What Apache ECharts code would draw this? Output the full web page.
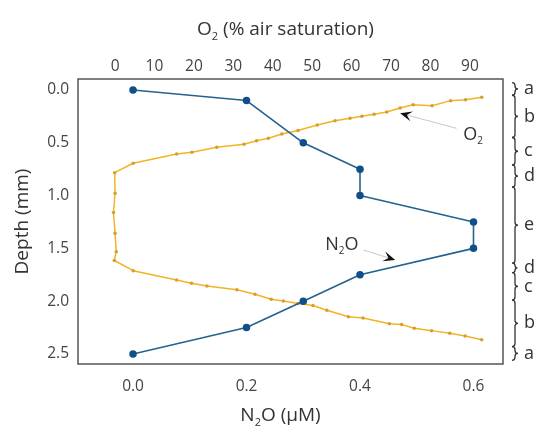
<!DOCTYPE html>
<html><head><meta charset="utf-8">
<script src="https://cdn.jsdelivr.net/npm/echarts@6/dist/echarts.min.js"></script>
<style>html,body{margin:0;padding:0;background:#fff}#c{width:543px;height:429px}</style>
</head><body><div id="c"></div>
<script>
const depthTicks = [0, 0.5, 1.0, 1.5, 2.0, 2.5];
const o2Ticks = [0, 10, 20, 30, 40, 50, 60, 70, 80, 90];
const n2oTicks = [0, 0.2, 0.4, 0.6];

const n2oDepth = [0, 0.1, 0.5, 0.75, 1.0, 1.25, 1.5, 1.75, 2.0, 2.25, 2.5];
const n2oValue = [0, 0.2, 0.3, 0.4, 0.4, 0.6, 0.6, 0.4, 0.3, 0.2, 0];

const o2Depth = [0.069,0.092,0.101,0.149,0.139,0.170,0.208,0.229,0.249,0.268,0.291,0.331,0.384,0.417,0.457,0.480,0.514,0.543,0.590,0.606,0.694,0.783,0.978,1.160,1.357,1.531,1.615,1.711,1.799,1.831,1.856,1.891,1.934,1.981,1.998,2.022,2.041,2.086,2.147,2.159,2.213,2.222,2.257,2.279,2.304,2.330,2.365];
const o2Value = [93.0,88.9,85.1,80.4,75.6,72.3,68.9,65.7,62.6,59.6,55.8,51.3,46.4,42.3,38.9,35.9,32.7,25.8,19.5,15.6,4.6,-0.1,0,-0.4,0,0.3,-0.2,4.6,15.6,19.4,23.3,30.9,35.5,39.6,42.7,46.4,50.2,53.7,59.2,62.9,69.6,72.7,75.9,80.3,84.9,88.8,93.0];

const zoneLabels = ['a','b','c','d','e','d','c','b','a'];
const zoneBounds = [-0.07, 0.05, 0.45, 0.71, 0.92, 1.64, 1.73, 1.99, 2.43, 2.56];

const FONT = '"Open Sans", "Noto Sans", sans-serif';
const chart = echarts.init(document.getElementById('c'), null, {renderer: 'canvas'});

const zoneData = zoneLabels.map((l, i) => [zoneBounds[i], zoneBounds[i + 1], i]);

const rich = {
  n: {fontSize: 19, color: '#333', fontFamily: FONT, lineHeight: 24},
  s: {fontSize: 11, color: '#333', fontFamily: FONT, verticalAlign: 'bottom', lineHeight: 11}
};

const option = {
  animation: false,
  backgroundColor: '#fff',
  grid: {left: 78, right: 40, top: 79, bottom: 65, show: true, borderColor: '#555', borderWidth: 1.5, containLabel: false, outerBoundsMode: 'none'},
  xAxis: [
    {
      type: 'value', position: 'bottom', min: -0.097, max: 0.652,
      name: '{n|N}{s|2}{n|O (μM)}', nameLocation: 'middle', nameGap: 40,
      nameTextStyle: {rich: rich, padding: [0, 20, 0, 0]},
      axisLine: {show: false}, axisTick: {show: false}, splitLine: {show: false},
      axisLabel: {customValues: n2oTicks, formatter: v => v.toFixed(1), fontSize: 15.5, color: '#444', fontFamily: FONT, margin: 15}
    },
    {
      type: 'value', position: 'top', min: -9.4, max: 98.4,
      name: '{n|O}{s|2}{n| (% air saturation)}', nameLocation: 'middle', nameGap: 37,
      nameTextStyle: {rich: rich, padding: [0, 10, 0, 0]},
      axisLine: {show: false}, axisTick: {show: false}, splitLine: {show: false},
      axisLabel: {customValues: o2Ticks, fontSize: 15.5, color: '#444', fontFamily: FONT, margin: 4}
    }
  ],
  yAxis: [{
    type: 'value', inverse: true, min: -0.104, max: 2.595,
    name: 'Depth (mm)', nameLocation: 'middle', nameGap: 46,
    nameTextStyle: {fontSize: 19, color: '#333', fontFamily: FONT},
    axisLine: {show: false}, axisTick: {show: false}, splitLine: {show: false},
    axisLabel: {customValues: depthTicks, formatter: v => v.toFixed(1), fontSize: 15.5, color: '#444', fontFamily: FONT, margin: 9}
  }],
  series: [
    {
      type: 'line', xAxisIndex: 1, yAxisIndex: 0,
      data: o2Value.map((v, i) => [v, o2Depth[i]]),
      symbol: 'circle', symbolSize: 3.5, showSymbol: true,
      lineStyle: {color: '#f2b426', width: 1.5},
      itemStyle: {color: '#d99d2e'}, z: 2
    },
    {
      type: 'line', xAxisIndex: 0, yAxisIndex: 0,
      data: n2oValue.map((v, i) => [v, n2oDepth[i]]),
      symbol: 'circle', symbolSize: 7.5, showSymbol: true,
      lineStyle: {color: '#24628f', width: 1.6},
      itemStyle: {color: '#0f5088'}, z: 3
    },
    {
      type: 'custom', xAxisIndex: 0, yAxisIndex: 0, clip: false, silent: true,
      encode: {x: 2, y: [0, 1]},
      data: zoneData,
      renderItem: function (params, api) {
        const cs = params.coordSys;
        const bx = cs.x + cs.width + 12;
        const y0 = api.coord([0, api.value(0)])[1];
        const y1 = api.coord([0, api.value(1)])[1];
        const ym = (y0 + y1) / 2;
        const w = Math.min(3, (y1 - y0) / 4);
        const p = 'M' + (bx - w) + ' ' + y0 +
          ' Q' + bx + ' ' + y0 + ' ' + bx + ' ' + (y0 + w) +
          ' L' + bx + ' ' + (ym - w) +
          ' Q' + bx + ' ' + ym + ' ' + (bx + w) + ' ' + ym +
          ' Q' + bx + ' ' + ym + ' ' + bx + ' ' + (ym + w) +
          ' L' + bx + ' ' + (y1 - w) +
          ' Q' + bx + ' ' + y1 + ' ' + (bx - w) + ' ' + y1;
        return {
          type: 'group',
          children: [
            {type: 'path', shape: {pathData: p}, style: {stroke: '#333', fill: null, lineWidth: 1.3}},
            {type: 'text', style: {text: zoneLabels[api.value(2)], x: bx + 9, y: ym, fill: '#333', font: '18px ' + FONT, verticalAlign: 'middle', align: 'left'}}
          ]
        };
      }
    }
  ]
};
chart.setOption(option);

function arrow(from, tip) {
  const dx = tip[0] - from[0], dy = tip[1] - from[1];
  const len = Math.hypot(dx, dy);
  const ux = dx / len, uy = dy / len, nx = -uy, ny = ux;
  const L = 12, W = 5, N = 7;
  const back = [tip[0] - L * ux, tip[1] - L * uy];
  return [
    {type: 'line', shape: {x1: from[0], y1: from[1], x2: tip[0] - N * ux, y2: tip[1] - N * uy}, style: {stroke: '#c8c8c8', lineWidth: 1}, z: 10},
    {type: 'polygon', shape: {points: [tip, [back[0] + W * nx, back[1] + W * ny], [tip[0] - N * ux, tip[1] - N * uy], [back[0] - W * nx, back[1] - W * ny]]}, style: {fill: '#111'}, z: 11}
  ];
}
const pO = (v, d) => chart.convertToPixel({xAxisIndex: 1, yAxisIndex: 0}, [v, d]);
const pN = (v, d) => chart.convertToPixel({xAxisIndex: 0, yAxisIndex: 0}, [v, d]);

const o2Text = pO(90.8, 0.426);
const n2oText = pN(0.368, 1.468);
const annRich = {
  n: {fontSize: 18, fill: '#333', fontFamily: FONT, lineHeight: 22},
  s: {fontSize: 10, fill: '#333', fontFamily: FONT, verticalAlign: 'bottom', lineHeight: 10}
};
const graphics = [].concat(
  arrow(pO(86.6, 0.363), pO(72.3, 0.22)),
  arrow(pN(0.406, 1.515), pN(0.462, 1.61)),
  [
    {type: 'text', x: o2Text[0], y: o2Text[1], z: 12, style: {text: '{n|O}{s|2}', rich: annRich, align: 'center', verticalAlign: 'middle'}},
    {type: 'text', x: n2oText[0], y: n2oText[1], z: 12, style: {text: '{n|N}{s|2}{n|O}', rich: annRich, align: 'center', verticalAlign: 'middle'}}
  ]
);
chart.setOption({graphic: graphics});
</script>
</body></html>
